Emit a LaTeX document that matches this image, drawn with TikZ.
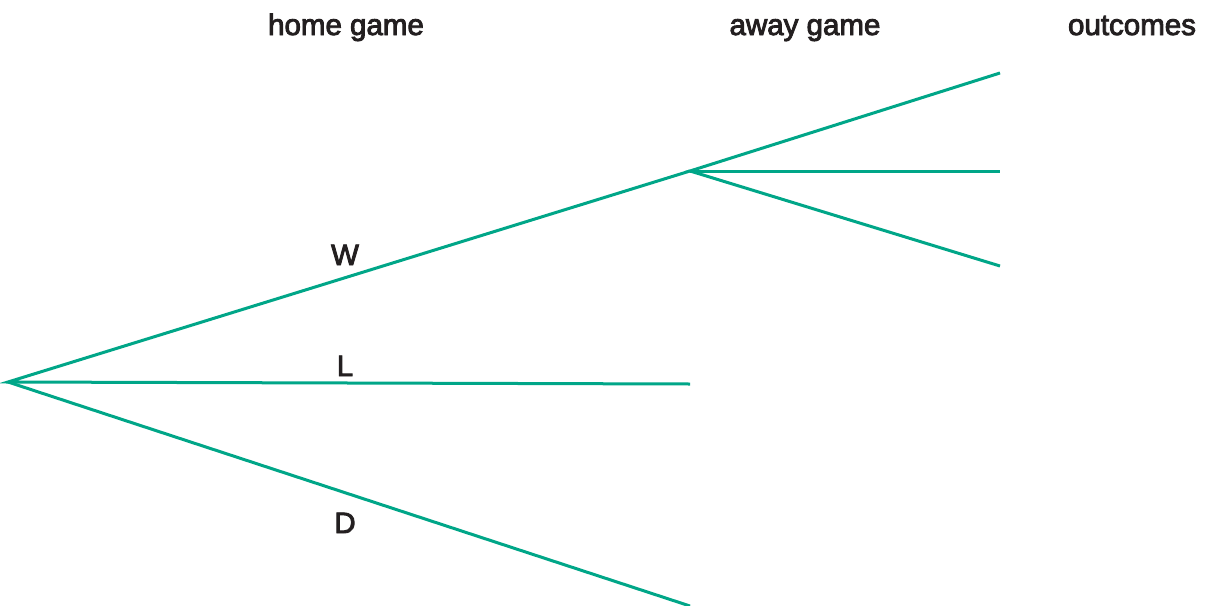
\documentclass[tikz,border=0pt]{standalone}
\usepackage{fontspec}
\setmainfont{Liberation Sans}[FakeBold=3]
\definecolor{branch}{RGB}{0,166,136}
\definecolor{ink}{RGB}{35,31,32}
\begin{document}
\begin{tikzpicture}[x=1pt,y=-1pt,
  edge/.style={draw=branch,line width=3pt},
  lbl/.style={text=ink,font=\fontsize{29.5}{32}\selectfont,anchor=base,inner sep=0pt}]
\useasboundingbox (0,0) rectangle (1207,605);
\coordinate (root) at (8,382);
\coordinate (w) at (690,171);
\coordinate (l) at (690,384);
\coordinate (d) at (690,606);
\coordinate (ww) at (1000,73);
\coordinate (wl) at (1000,171);
\coordinate (wd) at (1000,266);
\draw[edge] (w) -- (root) -- (l);
\draw[edge] (root) -- (d);
\draw[edge] (ww) -- (w) -- (wd);
\draw[edge] (w) -- (wl);
\node[lbl] (hg) at (346,35) {home game};
\node[lbl] (ag) at (805,35) {away game};
\node[lbl] (oc) at (1132,35) {outcomes};
\node[lbl] (lw) at (345,265) {W};
\node[lbl] (ll) at (345,376) {L};
\node[lbl] (ld) at (345,533) {D};
\end{tikzpicture}
\end{document}
